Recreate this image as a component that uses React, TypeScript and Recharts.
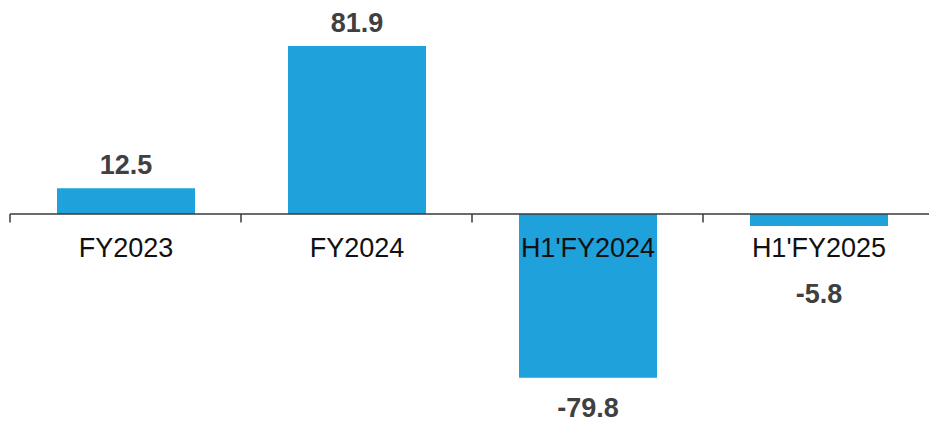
import { BarChart, Bar, XAxis, YAxis, ReferenceLine, LabelList } from 'recharts';

const categories = ['FY2023', 'FY2024', "H1'FY2024", "H1'FY2025"];
const values = [12.5, 81.9, -79.8, -5.8];

const data = categories.map((name, i) => ({ name, value: values[i] }));

const FONT = '"Liberation Sans", Arial, sans-serif';
const BAR_COLOR = '#1fa1dc';
const AXIS_COLOR = '#3a3a3a';

// category name sits just under the zero line, value label outside the bar end
// (for short negative bars it is pushed below the category name)
const renderLabels = (props: any) => {
  const vb = props.viewBox ?? props;
  const i = props.index;
  const v = values[i];
  const x = Number(vb.x);
  const y = Number(vb.y);
  const w = Number(vb.width);
  const h = Number(vb.height);
  const top = Math.min(y, y + h);
  const bottom = Math.max(y, y + h);
  const cx = x + w / 2;
  const zero = v >= 0 ? bottom : top;
  const catBaseline = zero + 43;
  const valBaseline = v >= 0 ? top - 14 : Math.max(bottom + 39, catBaseline + 46);
  return (
    <g key={`lbl-${i}`}>
      <text x={cx} y={catBaseline} textAnchor="middle" fill="#111" fontSize={27} fontFamily={FONT}>
        {categories[i]}
      </text>
      <text
        x={cx}
        y={valBaseline}
        textAnchor="middle"
        fill="#404040"
        fontSize={27}
        fontWeight="bold"
        fontFamily={FONT}
      >
        {v.toFixed(1)}
      </text>
    </g>
  );
};

export default function App() {
  return (
    <div style={{ position: 'absolute', left: 0, top: 0, width: 929, height: 421, overflow: 'hidden', background: '#fff' }}>
      <BarChart
        width={934}
        height={421}
        data={data}
        margin={{ top: 8.87, right: 0, bottom: 1.87, left: 10 }}
      >
        <XAxis dataKey="name" hide />
        <YAxis hide domain={[-100, 100]} />
        <Bar dataKey="value" fill={BAR_COLOR} barSize={138} isAnimationActive={false}>
          <LabelList dataKey="value" content={renderLabels} />
        </Bar>
        <ReferenceLine y={0} stroke={AXIS_COLOR} strokeWidth={1.5} />
        {categories.map((c) => (
          <ReferenceLine
            key={c}
            segment={[{ x: c, y: 0 }, { x: c, y: -4.2 }]}
            position="start"
            stroke={AXIS_COLOR}
            strokeWidth={1.5}
          />
        ))}
      </BarChart>
    </div>
  );
}
